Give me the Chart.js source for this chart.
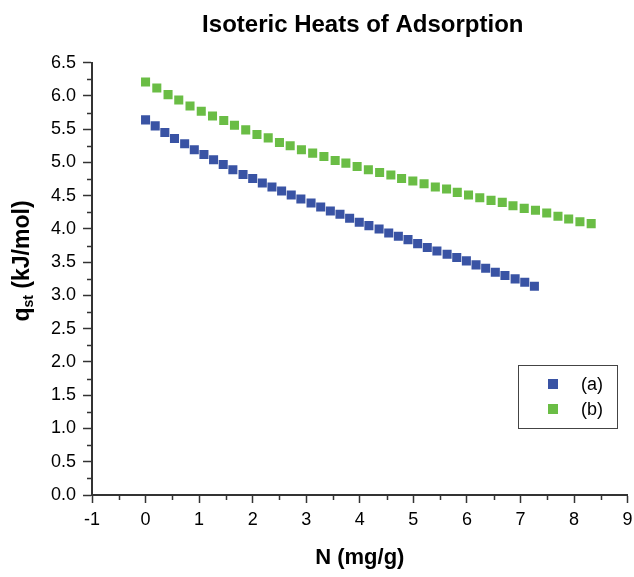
<!DOCTYPE html>
<html>
<head>
<meta charset="utf-8">
<script src="https://cdn.jsdelivr.net/npm/chart.js@4/dist/chart.umd.min.js"></script>
<style>
  body { margin: 0; background: #fff; }
  #wrap { width: 634px; height: 577px; }
</style>
</head>
<body>
<div id="wrap"><canvas id="chart" width="634" height="577"></canvas></div>
<script>
// Isosteric heats
const labels = ['(a)', '(b)'];
const xA = [0.00, 0.18, 0.36, 0.54, 0.73, 0.91, 1.09, 1.27, 1.45, 1.63, 1.82, 2.00, 2.18, 2.36, 2.54, 2.72, 2.90, 3.09, 3.27, 3.45,
            3.63, 3.81, 3.99, 4.17, 4.36, 4.54, 4.72, 4.90, 5.08, 5.26, 5.44, 5.63, 5.81, 5.99, 6.17, 6.35, 6.53, 6.71, 6.90, 7.08, 7.26];
const yA = [5.64, 5.55, 5.45, 5.36, 5.28, 5.19, 5.12, 5.04, 4.97, 4.89, 4.82, 4.76, 4.69, 4.63, 4.57, 4.51, 4.45, 4.39, 4.33, 4.27,
            4.22, 4.16, 4.10, 4.05, 4.00, 3.94, 3.89, 3.84, 3.78, 3.72, 3.67, 3.62, 3.57, 3.52, 3.46, 3.41, 3.35, 3.30, 3.25, 3.20, 3.14];
const xB = [0.00, 0.21, 0.42, 0.62, 0.83, 1.04, 1.25, 1.46, 1.66, 1.87, 2.08, 2.29, 2.50, 2.70, 2.91, 3.12, 3.33, 3.54, 3.74, 3.95,
            4.16, 4.37, 4.58, 4.78, 4.99, 5.20, 5.41, 5.62, 5.82, 6.03, 6.24, 6.45, 6.66, 6.86, 7.07, 7.28, 7.49, 7.70, 7.90, 8.11, 8.32];
const yB = [6.21, 6.12, 6.02, 5.94, 5.85, 5.77, 5.70, 5.63, 5.56, 5.49, 5.42, 5.37, 5.30, 5.25, 5.19, 5.14, 5.09, 5.03, 4.99, 4.94,
            4.89, 4.85, 4.81, 4.76, 4.72, 4.68, 4.63, 4.60, 4.55, 4.51, 4.47, 4.43, 4.40, 4.35, 4.31, 4.28, 4.24, 4.19, 4.15, 4.11, 4.08];
const colors = ['#3953a4', '#6abd45'];

const FONT = "'Liberation Sans', Arial, sans-serif";
const AXIS = '#333333';

function toPoints(xs, ys) {
    return xs.map((x, i) => ({ x: x, y: ys[i] }));
}

// title, minor ticks, y-axis title with subscript, and the boxed legend
const extras = {
    id: 'extras',
    afterDraw(chart) {
        const ctx = chart.ctx;
        const xs = chart.scales.x, ys = chart.scales.y;
        const area = chart.chartArea;
        ctx.save();
        ctx.strokeStyle = AXIS;
        ctx.lineWidth = 1.5;
        ctx.beginPath();
        for (let v = 0.25; v < 6.5; v += 0.5) {
            const py = Math.round(ys.getPixelForValue(v)) + 0.5;
            ctx.moveTo(area.left - 5, py);
            ctx.lineTo(area.left, py);
        }
        for (let v = -0.5; v < 9; v += 1) {
            const px = Math.round(xs.getPixelForValue(v)) + 0.5;
            ctx.moveTo(px, area.bottom);
            ctx.lineTo(px, area.bottom + 5);
        }
        ctx.stroke();

        ctx.fillStyle = '#000';
        ctx.textAlign = 'center';
        ctx.textBaseline = 'alphabetic';
        ctx.font = 'bold 24px ' + FONT;
        ctx.fillText('Isoteric Heats of Adsorption', (area.left + area.right) / 2 + 3, 32);

        // y title: q_st (kJ/mol)
        ctx.textBaseline = 'middle';
        ctx.textAlign = 'left';
        const big = 'bold 23px ' + FONT, small = 'bold 14px ' + FONT;
        ctx.font = big;
        const w1 = ctx.measureText('q').width;
        const w3 = ctx.measureText(' (kJ/mol)').width;
        ctx.font = small;
        const w2 = ctx.measureText('st').width;
        const total = w1 + w2 + w3;
        ctx.translate(23, 261);
        ctx.rotate(-Math.PI / 2);
        let cx = -total / 2;
        ctx.font = big;
        ctx.fillText('q', cx, 0);
        cx += w1;
        ctx.font = small;
        ctx.fillText('st', cx, 6);
        cx += w2;
        ctx.font = big;
        ctx.fillText(' (kJ/mol)', cx, 0);
        ctx.restore();

        // legend box
        ctx.save();
        ctx.strokeStyle = '#444';
        ctx.lineWidth = 1;
        ctx.strokeRect(518.5, 365.5, 99, 63);
        ctx.font = '18px ' + FONT;
        ctx.textBaseline = 'middle';
        labels.forEach((lab, i) => {
            const cy = 384 + i * 25;
            ctx.fillStyle = colors[i];
            ctx.fillRect(548, cy - 5, 10, 10);
            ctx.fillStyle = '#000';
            ctx.fillText(lab, 581, cy + 1);
        });
        ctx.restore();
    }
};

new Chart(document.getElementById('chart'), {
    type: 'scatter',
    data: {
        datasets: [
            { label: labels[0], data: toPoints(xA, yA), backgroundColor: colors[0], borderColor: colors[0],
              pointStyle: 'rect', pointRadius: 6.4, borderWidth: 0 },
            { label: labels[1], data: toPoints(xB, yB), backgroundColor: colors[1], borderColor: colors[1],
              pointStyle: 'rect', pointRadius: 6.4, borderWidth: 0 }
        ]
    },
    options: {
        responsive: false,
        animation: false,
        layout: { padding: { left: 0, right: 6, top: 62.7, bottom: 0 } },
        plugins: {
            legend: { display: false },
            tooltip: { enabled: false },
            title: { display: false }
        },
        scales: {
            x: {
                type: 'linear',
                min: -1, max: 9,
                afterFit: s => { s.height = 82; s.paddingLeft = 0; s.paddingRight = 0; },
                border: { color: AXIS, width: 2 },
                grid: { drawOnChartArea: false, color: AXIS, tickLength: 8, tickWidth: 1.5 },
                ticks: { stepSize: 1, color: '#000', padding: 6, font: { family: FONT, size: 18 } },
                title: { display: true, text: 'N (mg/g)', color: '#000', padding: { bottom: 6 },
                         font: { family: FONT, size: 22, weight: 'bold' } }
            },
            y: {
                type: 'linear',
                min: 0, max: 6.5,
                afterFit: s => { s.width = 92; },
                border: { color: AXIS, width: 2 },
                grid: { drawOnChartArea: false, color: AXIS, tickLength: 9, tickWidth: 1.5 },
                ticks: { stepSize: 0.5, color: '#000', padding: 7, font: { family: FONT, size: 18 },
                         callback: v => v.toFixed(1) }
            }
        }
    },
    plugins: [extras]
});
</script>
</body>
</html>
